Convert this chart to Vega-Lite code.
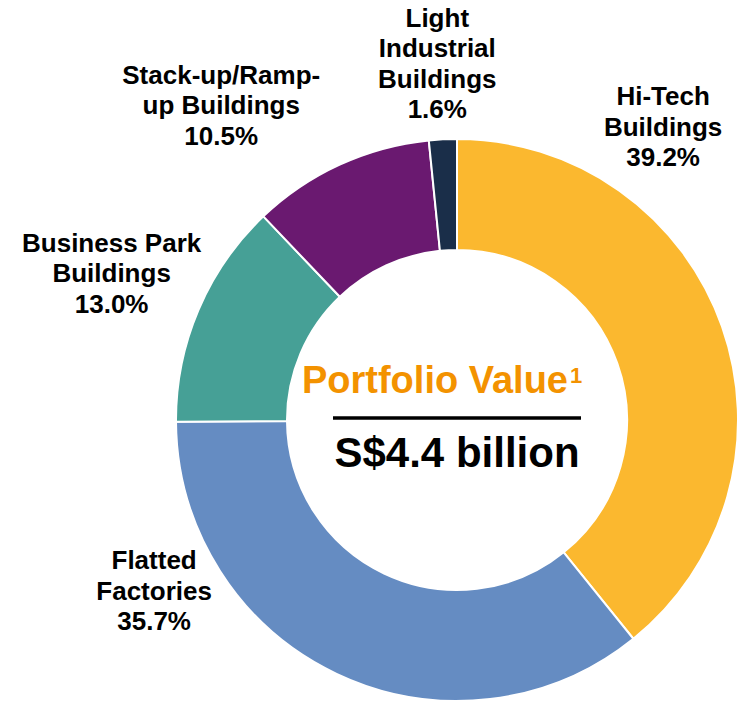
{
  "$schema": "https://vega.github.io/schema/vega-lite/v6.json",
  "width": 564,
  "height": 564,
  "autosize": {"type": "none"},
  "padding": {"left": 175, "top": 138, "right": 0, "bottom": 0},
  "background": "white",
  "config": {"view": {"stroke": null}, "text": {"font": "Liberation Sans", "fontWeight": "bold"}},
  "data": {
    "values": [
      {"idx": 1, "segment": "Hi-Tech Buildings", "share": 39.2, "label": "Hi-Tech\nBuildings\n39.2%"},
      {"idx": 2, "segment": "Flatted Factories", "share": 35.7, "label": "Flatted\nFactories\n35.7%"},
      {"idx": 3, "segment": "Business Park Buildings", "share": 13.0, "label": "Business Park\nBuildings\n13.0%"},
      {"idx": 4, "segment": "Stack-up/Ramp-up Buildings", "share": 10.5, "label": "Stack-up/Ramp-\nup Buildings\n10.5%"},
      {"idx": 5, "segment": "Light Industrial Buildings", "share": 1.6, "label": "Light\nIndustrial\nBuildings\n1.6%"}
    ]
  },
  "encoding": {
    "theta": {"field": "share", "type": "quantitative", "stack": true},
    "order": {"field": "idx", "type": "quantitative"}
  },
  "layer": [
    {
      "mark": {"type": "arc", "outerRadius": 281, "innerRadius": 170, "stroke": "white", "strokeWidth": 2},
      "encoding": {
        "color": {
          "field": "segment",
          "type": "nominal",
          "scale": {
            "domain": ["Hi-Tech Buildings", "Flatted Factories", "Business Park Buildings", "Stack-up/Ramp-up Buildings", "Light Industrial Buildings"],
            "range": ["#FBB82F", "#658CC2", "#46A096", "#6A1970", "#1A2E49"]
          },
          "legend": null
        }
      }
    },
    {
      "mark": {"type": "text", "radius": 358, "thetaOffset": -0.618, "dy": -30, "fontSize": 26, "lineHeight": 30.5, "lineBreak": "\n", "align": "center", "baseline": "middle", "color": "#000000"},
      "encoding": {"text": {"condition": {"test": "datum.idx == 1", "field": "label"}, "value": ""}}
    },
    {
      "mark": {"type": "text", "radius": 348, "thetaOffset": 0.613, "dy": -30, "fontSize": 26, "lineHeight": 30.5, "lineBreak": "\n", "align": "center", "baseline": "middle", "color": "#000000"},
      "encoding": {"text": {"condition": {"test": "datum.idx == 2", "field": "label"}, "value": ""}}
    },
    {
      "mark": {"type": "text", "radius": 375, "thetaOffset": -0.002, "dy": -30, "fontSize": 26, "lineHeight": 30.5, "lineBreak": "\n", "align": "center", "baseline": "middle", "color": "#000000"},
      "encoding": {"text": {"condition": {"test": "datum.idx == 3", "field": "label"}, "value": ""}}
    },
    {
      "mark": {"type": "text", "radius": 393, "thetaOffset": -0.213, "dy": -30, "fontSize": 26, "lineHeight": 30.5, "lineBreak": "\n", "align": "center", "baseline": "middle", "color": "#000000"},
      "encoding": {"text": {"condition": {"test": "datum.idx == 4", "field": "label"}, "value": ""}}
    },
    {
      "mark": {"type": "text", "radius": 357, "thetaOffset": -0.005, "dy": -45, "fontSize": 26, "lineHeight": 30.5, "lineBreak": "\n", "align": "center", "baseline": "middle", "color": "#000000"},
      "encoding": {"text": {"condition": {"test": "datum.idx == 5", "field": "label"}, "value": ""}}
    },
    {
      "data": {"values": [{"t": "Portfolio Value"}]},
      "mark": {"type": "text", "align": "right", "baseline": "alphabetic", "dx": 111, "dy": -27, "fontSize": 38, "color": "#F39200"},
      "encoding": {"text": {"field": "t"}, "theta": null, "order": null}
    },
    {
      "data": {"values": [{"t": "1"}]},
      "mark": {"type": "text", "align": "left", "baseline": "alphabetic", "dx": 113, "dy": -37, "fontSize": 22, "color": "#F39200"},
      "encoding": {"text": {"field": "t"}, "theta": null, "order": null}
    },
    {
      "data": {"values": [{"t": "S$4.4 billion"}]},
      "mark": {"type": "text", "align": "center", "baseline": "alphabetic", "dx": 0, "dy": 47, "fontSize": 42, "color": "#000000"},
      "encoding": {"text": {"field": "t"}, "theta": null, "order": null}
    },
    {
      "data": {"values": [{"t": "divider"}]},
      "mark": {"type": "rule", "stroke": "#000000", "strokeWidth": 3.5},
      "encoding": {"x": {"value": 158}, "x2": {"value": 406}, "y": {"value": 280}, "theta": null, "order": null}
    }
  ]
}
